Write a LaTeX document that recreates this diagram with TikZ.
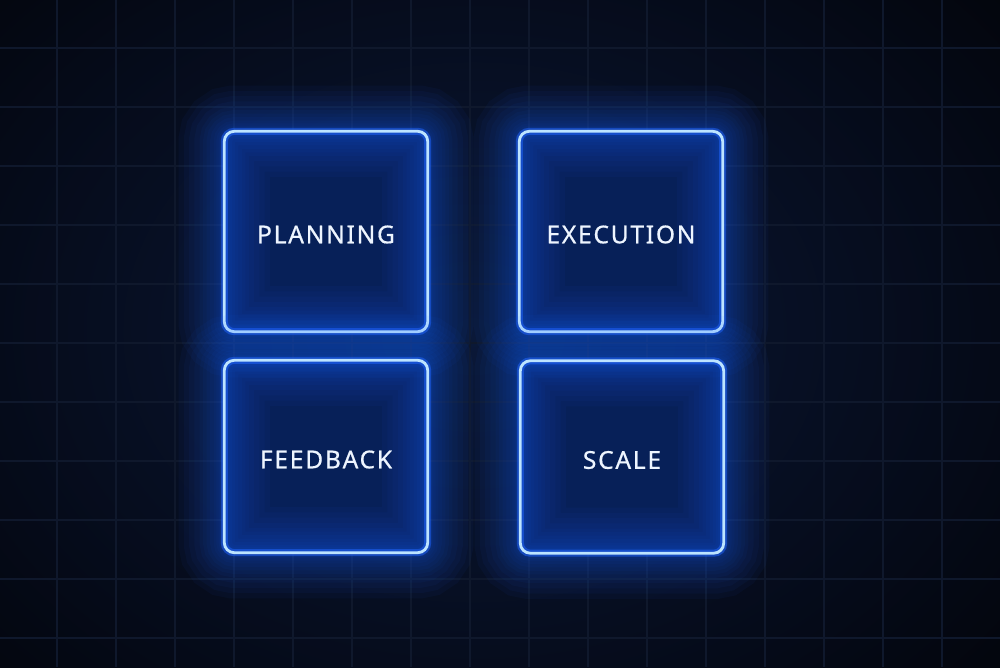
\documentclass[tikz,border=0pt]{standalone}
\usepackage{fontspec}
\setmainfont{Noto Sans}
\newfontfamily\labelfont[LetterSpace=7,FakeBold=0.6]{Noto Sans}
\definecolor{bg}{HTML}{03050C}
\definecolor{bgglow}{HTML}{0A1838}
\definecolor{gridc}{HTML}{0F182C}
\definecolor{boxfill}{HTML}{072058}
\definecolor{glowc}{HTML}{2165FF}
\definecolor{edgec}{HTML}{BDE4FF}
\definecolor{textc}{HTML}{EEF5FF}
\tikzset{
  panel/.style={rectangle, rounded corners=0.1cm, minimum width=2.02cm,
    inner sep=0pt, fill=boxfill},
  glowline/.style={rounded corners=0.1cm, draw=glowc},
  labeltext/.style={text=textc, font=\labelfont\fontsize{7}{8}\selectfont},
}
\begin{document}
\begin{tikzpicture}
\useasboundingbox (0,0) rectangle (10,6.67);
\fill[bg] (0,0) rectangle (10,6.67);
\shade[inner color=bgglow, outer color=bg] (4.73,3.35) ellipse (7.0 and 5.4);
\foreach \k in {0,...,16} \draw[gridc, line width=0.3pt] ({0.57+\k*0.59},0) -- ({0.57+\k*0.59},6.67);
\foreach \k in {0,...,11} \draw[gridc, line width=0.3pt] (0,{6.19-\k*0.59}) -- (10,{6.19-\k*0.59});
% panels
\node[panel, minimum height=1.99cm] (plan) at (3.26,4.355) {};
\node[panel, minimum height=1.99cm] (exec) at (6.21,4.355) {};
\node[panel, minimum height=1.91cm] (feed) at (3.26,2.105) {};
\node[panel, minimum height=1.91cm] (scale) at (6.22,2.10) {};
\foreach \n in {plan,exec,feed,scale}{
  \foreach \w in {26,23,20,17,14,12,10,8,6,4.5,3.2,2.2}
    \draw[glowline, line width=\w pt, opacity=0.045] (\n.south west) rectangle (\n.north east);
  \draw[glowline, line width=2pt, opacity=0.5] (\n.south west) rectangle (\n.north east);
  \draw[rounded corners=0.1cm, draw=edgec, line width=0.8pt] (\n.south west) rectangle (\n.north east);
}
\node[labeltext] (tplan) at ([yshift=-0.03cm]plan.center) {PLANNING};
\node[labeltext] (texec) at ([yshift=-0.03cm]exec.center) {EXECUTION};
\node[labeltext] (tfeed) at ([yshift=-0.03cm]feed.center) {FEEDBACK};
\node[labeltext] (tscale) at ([yshift=-0.03cm]scale.center) {SCALE};
\end{tikzpicture}
\end{document}
